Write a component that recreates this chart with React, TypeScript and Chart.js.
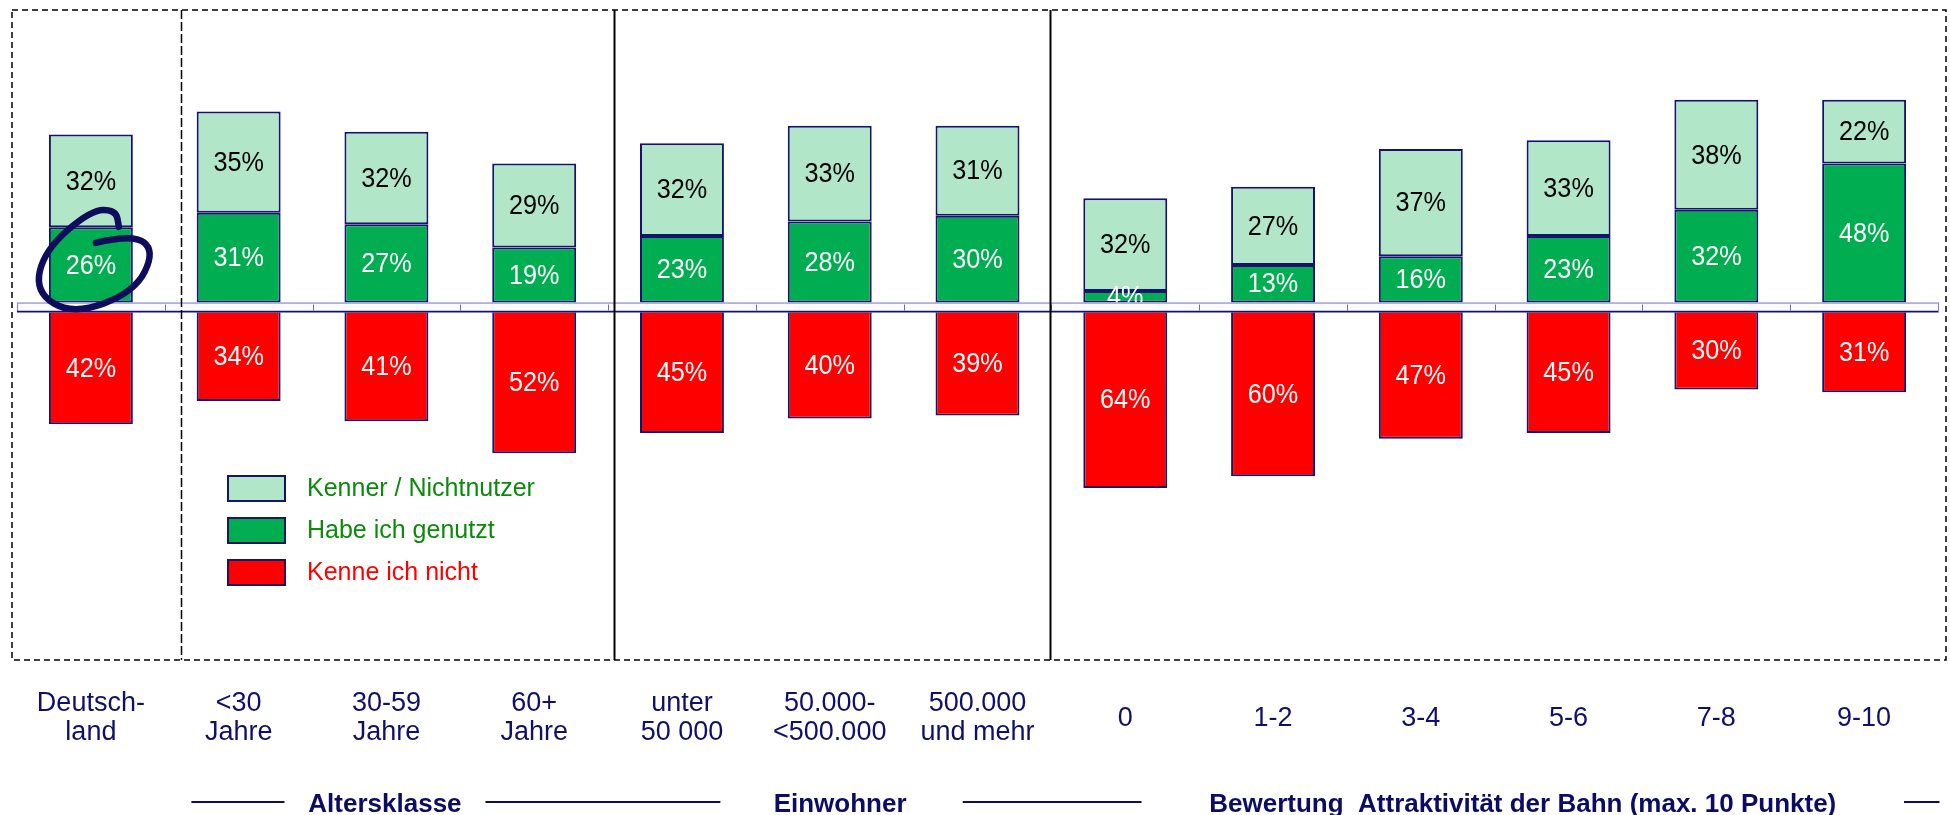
import React, { useEffect, useRef } from 'react';
import { Chart, registerables } from 'chart.js';

Chart.register(...registerables);

// ---------- data ----------
const categories: (string | string[])[] = [
  ['Deutsch-', 'land'],
  ['<30', 'Jahre'],
  ['30-59', 'Jahre'],
  ['60+', 'Jahre'],
  ['unter', '50 000'],
  ['50.000-', '<500.000'],
  ['500.000', 'und mehr'],
  '0',
  '1-2',
  '3-4',
  '5-6',
  '7-8',
  '9-10',
];
const kennerNichtnutzer = [32, 35, 32, 29, 32, 33, 31, 32, 27, 37, 33, 38, 22];
const habeIchGenutzt = [26, 31, 27, 19, 23, 28, 30, 4, 13, 16, 23, 32, 48];
const kenneIchNicht = [42, 34, 41, 52, 45, 40, 39, 64, 60, 47, 45, 30, 31];

const legendLabels = ['Kenner / Nichtnutzer', 'Habe ich genutzt', 'Kenne ich nicht'];
const groupTitles = ['Altersklasse', 'Einwohner', 'Bewertung  Attraktivität der Bahn (max. 10 Punkte)'];

// ---------- styles ----------
const FONT = "'Liberation Sans', Arial, Helvetica, sans-serif";
const NAVY = '#14146e';
const TEXT_NAVY = '#10106a';
const C_LIGHT = '#b2e6c8';
const C_GREEN = '#00ad50';
const C_RED = '#ff0000';

const overlayPlugin = {
  id: 'overlay',
  afterDatasetsDraw(chart: any) {
    const ctx: CanvasRenderingContext2D = chart.ctx;
    const ca = chart.chartArea;
    const xs = chart.scales.x;
    const ys = chart.scales.y;
    const zero = ys.getPixelForValue(0);
    const bandH = 9;
    const n = chart.data.labels.length;

    ctx.save();
    // value labels (slightly condensed like the original)
    ctx.textAlign = 'center';
    ctx.textBaseline = 'middle';
    chart.data.datasets.forEach((ds: any, di: number) => {
      const meta = chart.getDatasetMeta(di);
      meta.data.forEach((el: any, i: number) => {
        const v = ds.data[i] as number;
        const top = Math.min(el.y, el.base);
        const bot = Math.max(el.y, el.base);
        const t = v < 0 ? Math.max(top, zero + bandH) : top;
        const cy = (t + bot) / 2;
        ctx.save();
        ctx.translate(el.x, cy + 1);
        ctx.scale(0.9, 1);
        ctx.font = `28px ${FONT}`;
        ctx.fillStyle = ds.labelColor;
        ctx.fillText(`${Math.abs(v)}%`, 0, 0);
        ctx.restore();
      });
    });

    // zero band
    ctx.fillStyle = '#fbfbff';
    ctx.fillRect(ca.left, zero, ca.right - ca.left, bandH);
    ctx.lineWidth = 1.2;
    ctx.strokeStyle = '#8a8ac8';
    ctx.strokeRect(ca.left + 0.5, zero + 0.5, ca.right - ca.left, bandH);
    ctx.strokeStyle = NAVY;
    ctx.lineWidth = 1.5;
    ctx.beginPath();
    ctx.moveTo(ca.left, zero + bandH);
    ctx.lineTo(ca.right, zero + bandH);
    ctx.stroke();
    ctx.strokeStyle = '#6a6ab0';
    ctx.lineWidth = 1;
    for (let i = 0; i < n - 1; i++) {
      const x = Math.round(xs.getPixelForValue(i + 0.5)) + 0.5;
      ctx.beginPath();
      ctx.moveTo(x, zero + 2);
      ctx.lineTo(x, zero + bandH - 1);
      ctx.stroke();
    }

    // dashed frame
    ctx.strokeStyle = '#000';
    ctx.lineWidth = 1.5;
    ctx.setLineDash([6, 4]);
    ctx.strokeRect(ca.left - 5, ca.top, ca.right - ca.left + 13, ca.bottom - ca.top);

    // group dividers
    const dividers = [
      { v: 0.61, dash: [9, 3] },
      { v: 3.54, dash: [] },
      { v: 6.49, dash: [] },
    ];
    dividers.forEach((d) => {
      const x = Math.round(xs.getPixelForValue(d.v)) + 0.5;
      ctx.setLineDash(d.dash);
      ctx.lineWidth = d.dash.length ? 1.5 : 2;
      ctx.beginPath();
      ctx.moveTo(x, ca.top);
      ctx.lineTo(x, ca.bottom);
      ctx.stroke();
    });
    ctx.setLineDash([]);

    // legend (inside the plot)
    const lx = ca.left + 210;
    const ly = ca.top + 465;
    const legendItems = [
      { label: legendLabels[0], fill: C_LIGHT, text: '#0b8a0b' },
      { label: legendLabels[1], fill: C_GREEN, text: '#0b8a0b' },
      { label: legendLabels[2], fill: C_RED, text: '#ff0000' },
    ];
    legendItems.forEach((it, k) => {
      const y = ly + k * 42;
      ctx.fillStyle = it.fill;
      ctx.fillRect(lx, y, 59, 27);
      ctx.strokeStyle = NAVY;
      ctx.lineWidth = 2;
      ctx.strokeRect(lx + 1, y + 1, 57, 25);
      ctx.fillStyle = it.text;
      ctx.font = `25px ${FONT}`;
      ctx.textAlign = 'left';
      ctx.textBaseline = 'middle';
      ctx.fillText(it.label, lx + 80, y + 14);
    });

    // hand-drawn circle around Deutschland "Habe ich genutzt"
    const gEl = chart.getDatasetMeta(0).data[0];
    const cx = gEl.x;
    const cy = (gEl.y + gEl.base) / 2;
    const pts = [
      [5, -22],
      [42, -31],
      [64, -14],
      [44, 27],
      [-18, 50],
      [-56, 27],
      [-46, -15],
      [0, -55],
      [25, -55],
      [28, -38],
    ];
    ctx.strokeStyle = '#0d0d5c';
    ctx.lineWidth = 6.5;
    ctx.lineCap = 'round';
    ctx.lineJoin = 'round';
    ctx.beginPath();
    ctx.moveTo(cx + pts[0][0], cy + pts[0][1]);
    for (let k = 1; k < pts.length - 1; k++) {
      const mx = (pts[k][0] + pts[k + 1][0]) / 2;
      const my = (pts[k][1] + pts[k + 1][1]) / 2;
      ctx.quadraticCurveTo(cx + pts[k][0], cy + pts[k][1], cx + mx, cy + my);
    }
    const last = pts[pts.length - 1];
    ctx.lineTo(cx + last[0], cy + last[1]);
    ctx.stroke();

    // bottom group titles with rules
    const ty = chart.height - 3;
    const ry = chart.height - 13;
    const titleCenters = [1.99, 5.07, 9.69];
    ctx.font = `bold 26px ${FONT}`;
    ctx.fillStyle = '#0c0c66';
    ctx.textAlign = 'center';
    ctx.textBaseline = 'alphabetic';
    groupTitles.forEach((t, k) => {
      ctx.fillText(t, xs.getPixelForValue(titleCenters[k]), ty);
    });
    const rules = [
      [0.68, 1.31],
      [2.67, 4.26],
      [5.9, 7.11],
      [12.27, 12.51],
    ];
    ctx.strokeStyle = '#0c0c66';
    ctx.lineWidth = 2;
    ctx.lineCap = 'butt';
    rules.forEach(([a, b]) => {
      ctx.beginPath();
      ctx.moveTo(xs.getPixelForValue(a), ry);
      ctx.lineTo(xs.getPixelForValue(b), ry);
      ctx.stroke();
    });
    ctx.restore();
  },
};

export default function App() {
  const ref = useRef<HTMLCanvasElement | null>(null);
  useEffect(() => {
    if (!ref.current) return;
    const chart = new Chart(ref.current, {
      type: 'bar',
      data: {
        labels: categories as any,
        datasets: [
          {
            label: legendLabels[1],
            data: habeIchGenutzt,
            backgroundColor: C_GREEN,
            borderColor: NAVY,
            borderWidth: 2,
            borderSkipped: false,
            stack: 's',
            labelColor: '#ffffff',
          } as any,
          {
            label: legendLabels[0],
            data: kennerNichtnutzer,
            backgroundColor: C_LIGHT,
            borderColor: NAVY,
            borderWidth: 2,
            borderSkipped: false,
            stack: 's',
            labelColor: '#000000',
          } as any,
          {
            label: legendLabels[2],
            data: kenneIchNicht.map((v) => -v),
            backgroundColor: C_RED,
            borderColor: NAVY,
            borderWidth: 2,
            borderSkipped: false,
            stack: 's',
            labelColor: '#ffffff',
          } as any,
        ],
      },
      options: {
        responsive: false,
        animation: false,
        events: [],
        layout: { padding: { left: 17, right: 12, top: 10, bottom: 9 } },
        datasets: { bar: { categoryPercentage: 1, barPercentage: 0.568 } },
        plugins: { legend: { display: false }, tooltip: { enabled: false } },
        scales: {
          x: {
            stacked: true,
            grid: { display: false, drawTicks: false },
            border: { display: false },
            ticks: {
              color: TEXT_NAVY,
              font: { family: FONT, size: 27, lineHeight: 1.074 },
              padding: 44,
              maxRotation: 0,
              autoSkip: false,
              crossAlign: 'center',
            },
            afterFit: (scale: any) => {
              scale.paddingLeft = 0;
              scale.paddingRight = 0;
            },
          },
          y: {
            stacked: true,
            display: false,
            min: -123.4,
            max: 101,
          },
        },
      },
      plugins: [overlayPlugin],
    });
    return () => chart.destroy();
  }, []);
  return (
    <div style={{ position: 'fixed', left: 0, top: 0, width: 1950, height: 815, background: '#fff' }}>
      <canvas ref={ref} width={1950} height={815} style={{ width: 1950, height: 815, display: 'block' }} />
    </div>
  );
}
